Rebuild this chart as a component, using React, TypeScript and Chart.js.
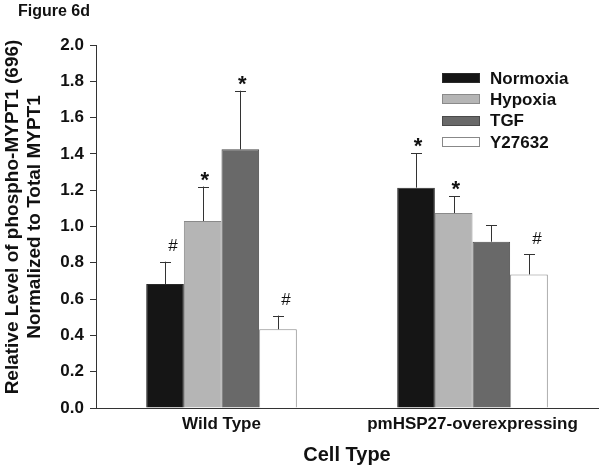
import React, { useEffect, useRef } from "react";
import { Chart, registerables } from "chart.js";

Chart.register(...registerables);

const categories = ["Wild Type", "pmHSP27-overexpressing"];
const seriesNames = ["Normoxia", "Hypoxia", "TGF", "Y27632"];
const normoxia = [0.683, 1.214];
const hypoxia = [1.03, 1.074];
const tgf = [1.425, 0.916];
const y27632 = [0.434, 0.736];
const normoxiaErr = [0.123, 0.189];
const hypoxiaErr = [0.19, 0.092];
const tgfErr = [0.323, 0.09];
const y27632Err = [0.075, 0.112];
const normoxiaMarks = ["#", "*"];
const hypoxiaMarks = ["*", "*"];
const tgfMarks = ["*", ""];
const y27632Marks = ["#", "#"];
const yTicks = [0, 0.2, 0.4, 0.6, 0.8, 1.0, 1.2, 1.4, 1.6, 1.8, 2.0];

const colors = ["#151515", "#b5b5b5", "#696969", "#ffffff"];
const borders = ["#2a2a2a", "#8a8a8a", "#4a4a4a", "#888888"];
const FONT = "'Liberation Sans', Arial, sans-serif";

export default function App() {
  const ref = useRef<HTMLCanvasElement>(null);
  useEffect(() => {
    document.body.style.margin = "0";
    const values = [normoxia, hypoxia, tgf, y27632];
    const errs = [normoxiaErr, hypoxiaErr, tgfErr, y27632Err];
    const marks = [normoxiaMarks, hypoxiaMarks, tgfMarks, y27632Marks];

    const overlay = {
      id: "overlay",
      afterDatasetsDraw(chart: any) {
        const ctx = chart.ctx;
        const ys = chart.scales.y;
        ctx.save();
        chart.data.datasets.forEach((ds: any, i: number) => {
          const meta = chart.getDatasetMeta(i);
          meta.data.forEach((el: any, j: number) => {
            const top = ys.getPixelForValue(values[i][j] + errs[i][j]);
            ctx.strokeStyle = "#333";
            ctx.lineWidth = 1;
            ctx.beginPath();
            ctx.moveTo(Math.round(el.x) + 0.5, el.y);
            ctx.lineTo(Math.round(el.x) + 0.5, top);
            ctx.moveTo(Math.round(el.x) - 5, Math.round(top) + 0.5);
            ctx.lineTo(Math.round(el.x) + 6, Math.round(top) + 0.5);
            ctx.stroke();
            const m = marks[i][j];
            if (m) {
              ctx.fillStyle = "#111";
              ctx.textAlign = "center";
              ctx.textBaseline = "middle";
              if (m === "*") {
                ctx.font = `bold 22px ${FONT}`;
                ctx.fillText(m, el.x + 2, top - 6);
              } else {
                ctx.font = `17px ${FONT}`;
                ctx.fillText(m, el.x + 8, top - 15);
              }
            }
          });
        });
        ctx.restore();
      },
      afterDraw(chart: any) {
        const ctx = chart.ctx;
        ctx.save();
        ctx.fillStyle = "#111";
        ctx.font = `bold 16px ${FONT}`;
        ctx.textAlign = "left";
        ctx.textBaseline = "middle";
        ctx.fillText("Figure 6d", 18, 12);
        // legend
        ctx.font = `bold 17px ${FONT}`;
        seriesNames.forEach((name, i) => {
          const y = 78 + i * 21.3;
          ctx.fillStyle = colors[i];
          ctx.fillRect(442, Math.round(y - 5), 38, 10);
          ctx.strokeStyle = borders[i];
          ctx.lineWidth = 1;
          ctx.strokeRect(442.5, Math.round(y - 5) + 0.5, 37, 9);
          ctx.fillStyle = "#111";
          ctx.fillText(name, 490, y + 1);
        });
        // axis titles
        ctx.textAlign = "center";
        ctx.font = `bold 20px ${FONT}`;
        ctx.fillText("Cell Type", 347, 455);
        ctx.save();
        ctx.translate(13, 217);
        ctx.rotate(-Math.PI / 2);
        ctx.font = `bold 19px ${FONT}`;
        ctx.fillText("Relative Level of phospho-MYPT1 (696)", 0, 0);
        ctx.fillText("Normalized to Total MYPT1", 0, 22);
        ctx.restore();
        ctx.restore();
      },
    };

    const chart = new Chart(ref.current!, {
      type: "bar",
      data: {
        labels: categories,
        datasets: seriesNames.map((name, i) => ({
          label: name,
          data: values[i],
          backgroundColor: colors[i],
          borderColor: borders[i],
          borderWidth: 1,
          borderSkipped: "bottom",
          categoryPercentage: 0.6,
          barPercentage: 1.0,
        })),
      },
      options: {
        responsive: false,
        animation: false,
        devicePixelRatio: 1,
        layout: { padding: { top: 45, right: 6, left: 0, bottom: 0 } },
        plugins: { legend: { display: false }, tooltip: { enabled: false } },
        scales: {
          x: {
            grid: { display: false, drawTicks: false },
            border: { display: true, color: "#333", width: 1 },
            ticks: { color: "#111", font: { family: FONT, weight: "bold", size: 17 }, padding: 6 },
            afterFit: (s: any) => { s.height = 62; },
          },
          y: {
            min: 0,
            max: 2,
            afterBuildTicks: (s: any) => { s.ticks = yTicks.map((v) => ({ value: v })); },
            grid: { display: true, drawOnChartArea: false, drawTicks: true, tickLength: 6, color: "#333" },
            border: { display: true, color: "#333", width: 1 },
            ticks: {
              color: "#111",
              font: { family: FONT, weight: "bold", size: 17 },
              padding: 6,
              callback: (v: any) => Number(v).toFixed(1),
            },
            afterFit: (s: any) => { s.width = 96; },
          },
        },
      },
      plugins: [overlay],
    });
    return () => chart.destroy();
  }, []);
  return (
    <div style={{ width: 604, height: 470, background: "#fff" }}>
      <canvas ref={ref} width={604} height={470} />
    </div>
  );
}
